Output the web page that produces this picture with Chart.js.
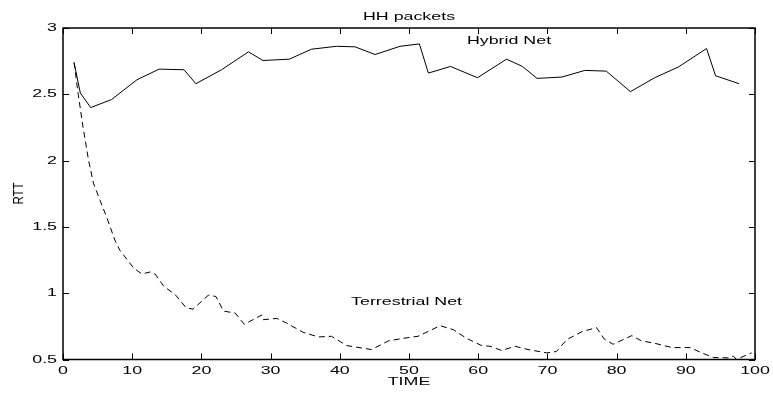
<!DOCTYPE html>
<html>
<head>
<meta charset="utf-8">
<script src="https://cdn.jsdelivr.net/npm/chart.js@4/dist/chart.umd.min.js"></script>
<style>
 body { margin: 0; background: #fff; }
 #caja { width: 773px; height: 394px; }
</style>
</head>
<body>
<div id="caja"><canvas id="Grafica1"></canvas></div>
<script>
// datos
var tiempoHybrid = [1.6, 2.5, 4.0, 7.0, 10.7, 13.9, 17.5, 19.2, 22.9, 26.8, 28.9, 32.7, 35.9, 39.5, 42.2, 45.1, 48.7, 51.5,
    52.8, 56.0, 59.9, 64.1, 66.4, 68.5, 72.1, 75.4, 78.5, 82.0, 85.5, 88.9, 93.0, 94.3, 97.7];
var rttHybrid = [2.74, 2.51, 2.40, 2.46, 2.61, 2.69, 2.685, 2.58, 2.685, 2.82, 2.755, 2.765, 2.84, 2.862, 2.858, 2.80, 2.862, 2.88,
    2.66, 2.71, 2.625, 2.765, 2.71, 2.62, 2.63, 2.68, 2.675, 2.52, 2.625, 2.705, 2.845, 2.64, 2.58];

var tiempoTerr = [1.6, 2.2, 2.9, 3.7, 4.4, 5.35, 6.3, 7.5, 8.2, 10.2, 11.4, 12.6, 13.3, 14.6, 16.2, 17.8, 18.8, 21.0, 22.1, 23.2,
    24.9, 26.2, 28.7, 28.9, 30.9, 32.3, 34.7, 36.9, 38.8, 41.0, 44.6, 47.0, 49.2, 51.3, 54.5, 56.4, 58.3, 60.5, 61.7, 63.4,
    65.3, 67.2, 69.9, 71.3, 72.8, 75.0, 77.1, 78.2, 79.5, 82.2, 83.6, 85.3, 88.0, 90.6, 92.3, 94.0, 96.2, 96.9, 97.3, 99.5];
var rttTerr = [2.74, 2.5, 2.25, 2.0, 1.83, 1.7, 1.575, 1.40, 1.325, 1.19, 1.145, 1.16, 1.145, 1.05, 0.99, 0.89, 0.88, 0.985, 0.975,
    0.865, 0.85, 0.765, 0.835, 0.80, 0.81, 0.775, 0.705, 0.67, 0.675, 0.605, 0.575, 0.64, 0.66, 0.675, 0.755, 0.725, 0.66, 0.605,
    0.60, 0.568, 0.60, 0.575, 0.55, 0.56, 0.65, 0.71, 0.74, 0.655, 0.615, 0.68, 0.64, 0.625, 0.59, 0.59, 0.55, 0.515, 0.512,
    0.525, 0.50, 0.55];

var ticksX = [0, 10, 20, 30, 40, 50, 60, 70, 80, 90, 100];
var ticksY = [0.5, 1, 1.5, 2, 2.5, 3];
var etiquetasX = ['0', '10', '20', '30', '40', '50', '60', '70', '80', '90', '100'];
var etiquetasY = ['0.5', '1', '1.5', '2', '2.5', '3'];
var titulo = 'HH packets';
var nombreX = 'TIME';
var nombreY = 'RTT';
var nombres = ['Hybrid Net', 'Terrestrial Net'];

var estirar = 1.55; // la figura original esta estirada a lo ancho

function puntos(xs, ys) {
    let salida = new Array();
    for (let i in xs) {
        salida.push({ x: xs[i], y: ys[i] });
    }
    return salida;
}

function texto(ctx, t, x, y, alinear, base) {
    ctx.save();
    ctx.translate(x, y);
    ctx.scale(estirar, 1);
    ctx.textAlign = alinear;
    ctx.textBaseline = base;
    ctx.fillText(t, 0, 0);
    ctx.restore();
}

// marco estilo matlab: caja, marcas hacia dentro y textos
var marco = {
    id: 'marco',
    afterDraw: function (chart) {
        var ctx = chart.ctx;
        var a = chart.chartArea;
        var sx = chart.scales.x;
        var sy = chart.scales.y;
        ctx.save();
        ctx.strokeStyle = '#000';
        ctx.fillStyle = '#000';
        ctx.lineWidth = 1;
        ctx.beginPath();
        for (let i in ticksX) {
            let px = Math.round(sx.getPixelForValue(ticksX[i])) + 0.5;
            ctx.moveTo(px, a.bottom); ctx.lineTo(px, a.bottom - 6);
            ctx.moveTo(px, a.top); ctx.lineTo(px, a.top + 6);
        }
        for (let i in ticksY) {
            let py = Math.round(sy.getPixelForValue(ticksY[i])) + 0.5;
            ctx.moveTo(a.left, py); ctx.lineTo(a.left + 6, py);
            ctx.moveTo(a.right, py); ctx.lineTo(a.right - 6, py);
        }
        ctx.stroke();
        ctx.lineWidth = 1.5;
        ctx.strokeRect(a.left, a.top, a.right - a.left, a.bottom - a.top);

        ctx.font = '11.5px "Liberation Sans", Arial, sans-serif';
        for (let i in ticksX) {
            texto(ctx, etiquetasX[i], sx.getPixelForValue(ticksX[i]), a.bottom + 14, 'center', 'alphabetic');
        }
        for (let i in ticksY) {
            texto(ctx, etiquetasY[i], a.left - 6, sy.getPixelForValue(ticksY[i]), 'right', 'middle');
        }
        var cx = (a.left + a.right) / 2;
        texto(ctx, titulo, cx, 19.5, 'center', 'alphabetic');
        texto(ctx, nombreX, cx, 385, 'center', 'alphabetic');
        texto(ctx, nombres[0], sx.getPixelForValue(64.45), sy.getPixelForValue(2.88), 'center', 'alphabetic');
        texto(ctx, nombres[1], sx.getPixelForValue(49.65), sy.getPixelForValue(0.912), 'center', 'alphabetic');

        ctx.save();
        ctx.translate(19, 193.5);
        ctx.scale(1.3, 1);
        ctx.rotate(-Math.PI / 2);
        ctx.textAlign = 'center';
        ctx.textBaseline = 'middle';
        ctx.fillText(nombreY, 0, 0);
        ctx.restore();
        ctx.restore();
    }
};

var ctx = document.getElementById('Grafica1').getContext('2d');
var myChart = new Chart(ctx, {
    type: 'line',
    data: {
        datasets: [
            {
                label: nombres[0],
                data: puntos(tiempoHybrid, rttHybrid),
                borderColor: '#000',
                borderWidth: 1,
                pointRadius: 0,
                tension: 0
            },
            {
                label: nombres[1],
                data: puntos(tiempoTerr, rttTerr),
                borderColor: '#000',
                borderWidth: 1,
                borderDash: [6, 4],
                pointRadius: 0,
                tension: 0
            }
        ]
    },
    options: {
        responsive: true,
        maintainAspectRatio: false,
        animation: false,
        layout: { padding: { left: 63, right: 18, top: 28, bottom: 34.5 } },
        plugins: {
            legend: { display: false },
            tooltip: { enabled: false }
        },
        scales: {
            x: { type: 'linear', display: false, min: 0, max: 100 },
            y: { type: 'linear', display: false, min: 0.5, max: 3 }
        }
    },
    plugins: [marco]
});
</script>
</body>
</html>
